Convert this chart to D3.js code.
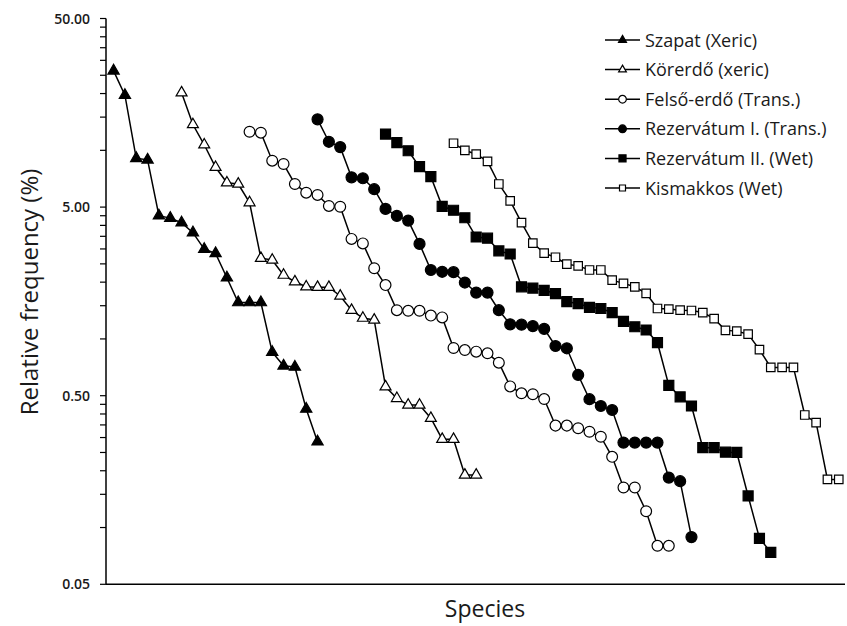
<!DOCTYPE html>
<html>
<head>
<meta charset="utf-8">
<script src="https://cdn.jsdelivr.net/npm/d3@7"></script>
<style>
  body { margin: 0; background: #fff; }
  text { font-family: "Open Sans", "Noto Sans", sans-serif; fill: #1a1a1a; }
</style>
</head>
<body>
<div id="chart"></div>
<script>
// series names (legend order)
const seriesNames = ["Szapat (Xeric)", "Körerdő (xeric)", "Felső-erdő (Trans.)",
                     "Rezervátum I. (Trans.)", "Rezervátum II. (Wet)", "Kismakkos (Wet)"];
// species rank where each series starts
const seriesStart = [0, 6, 12, 18, 24, 30];

const szapat = [26.4, 19.6, 9.07, 8.9, 4.5, 4.37, 4.13, 3.66, 2.99, 2.84, 2.11,
                1.56, 1.56, 1.56, 0.85, 0.72, 0.71, 0.425, 0.285];
const korerdo = [20.2, 13.7, 10.7, 8.13, 6.73, 6.63, 5.28, 2.68, 2.62, 2.18, 2.01,
                 1.89, 1.88, 1.88, 1.69, 1.42, 1.29, 1.26, 0.558, 0.484, 0.446, 0.446,
                 0.38, 0.294, 0.294, 0.19, 0.19];
const felsoErdo = [12.55, 12.4, 8.81, 8.46, 6.63, 5.96, 5.8, 5.07, 5.02, 3.39, 3.21,
                   2.37, 1.93, 1.42, 1.41, 1.41, 1.33, 1.3, 0.895, 0.873, 0.856, 0.839,
                   0.748, 0.56, 0.515, 0.509, 0.48, 0.347, 0.347, 0.336, 0.322, 0.303,
                   0.237, 0.163, 0.163, 0.122, 0.08, 0.08];
const rezervatum1 = [14.6, 11.1, 10.4, 7.19, 7.11, 6.22, 4.89, 4.49, 4.24, 3.19, 2.32,
                     2.27, 2.26, 1.99, 1.76, 1.76, 1.42, 1.195, 1.19, 1.17, 1.13, 0.917,
                     0.892, 0.644, 0.479, 0.441, 0.42, 0.282, 0.282, 0.282, 0.282, 0.184,
                     0.176, 0.089];
const rezervatum2 = [12.2, 10.98, 9.95, 8.19, 7.25, 5.05, 4.81, 4.39, 3.47, 3.42, 2.93,
                     2.82, 1.89, 1.86, 1.81, 1.74, 1.575, 1.54, 1.47, 1.45, 1.38, 1.24,
                     1.16, 1.115, 0.955, 0.567, 0.493, 0.441, 0.265, 0.265, 0.251, 0.25,
                     0.147, 0.0877, 0.0739];
const kismakkos = [10.9, 10.0, 9.54, 8.74, 6.63, 5.39, 4.14, 3.22, 2.85, 2.71, 2.49,
                   2.44, 2.32, 2.32, 2.05, 1.97, 1.89, 1.745, 1.45, 1.44, 1.42, 1.415,
                   1.38, 1.28, 1.11, 1.1, 1.06, 0.877, 0.706, 0.706, 0.706, 0.395, 0.36,
                   0.18, 0.18];
const seriesValues = [szapat, korerdo, felsoErdo, rezervatum1, rezervatum2, kismakkos];

// y tick labels
const yTicks = [0.05, 0.5, 5, 50];
const yTickLabels = ["0.05", "0.50", "5.00", "50.00"];

const W = 847, H = 626;
const svg = d3.select("#chart").append("svg")
    .attr("width", W).attr("height", H);

const x = d3.scaleLinear().domain([-0.67, 64.55]).range([106, 845]);
const y = d3.scaleLog().domain([0.05, 50]).range([584.3, 18.5]);

// marker styles per series
const markerShape = [d3.symbolTriangle, d3.symbolTriangle, d3.symbolCircle,
                     d3.symbolCircle, d3.symbolSquare, d3.symbolSquare];
const markerFill = ["#000", "#fff", "#fff", "#000", "#000", "#fff"];
const markerSize = [55, 52, 92, 95, 100, 72];

// y axis with minor ticks
const minor = [];
for (let dec = 0.05; dec < 50; dec *= 10) {
  for (let k = 2; k <= 9; k++) minor.push(dec * k);
}
const yAxis = svg.append("g").attr("transform", "translate(106,0)");
yAxis.append("line").attr("x1", 0).attr("x2", 0)
    .attr("y1", y(50)).attr("y2", y(0.05))
    .attr("stroke", "#000").attr("stroke-width", 1.5);
yAxis.selectAll(".minor").data(minor).enter().append("line")
    .attr("x1", -6).attr("x2", 0)
    .attr("y1", d => y(d)).attr("y2", d => y(d))
    .attr("stroke", "#000").attr("stroke-width", 1.2);
yAxis.selectAll(".major").data(yTicks).enter().append("line")
    .attr("x1", -6).attr("x2", 0)
    .attr("y1", d => y(d)).attr("y2", d => y(d))
    .attr("stroke", "#000").attr("stroke-width", 1.2);
yAxis.selectAll(".lab").data(yTicks).enter().append("text")
    .attr("x", -16).attr("y", d => y(d) + 5)
    .attr("text-anchor", "end")
    .style("font-size", "14px").style("font-weight", 600)
    .text((d, i) => yTickLabels[i]);

// x axis
svg.append("line").attr("x1", 106).attr("x2", 845)
    .attr("y1", y(0.05)).attr("y2", y(0.05))
    .attr("stroke", "#000").attr("stroke-width", 1.5);

// axis titles
svg.append("text").attr("x", 485).attr("y", 617)
    .attr("text-anchor", "middle").style("font-size", "23px").text("Species");
svg.append("text").attr("transform", "translate(38,292) rotate(-90)")
    .attr("text-anchor", "middle").style("font-size", "24px")
    .text("Relative frequency (%)");

// series
const line = d3.line().x(d => x(d[0])).y(d => y(d[1]));
seriesValues.forEach((vals, s) => {
  const pts = vals.map((v, i) => [seriesStart[s] + i, v]);
  const g = svg.append("g");
  g.append("path").datum(pts).attr("d", line)
      .attr("fill", "none").attr("stroke", "#000").attr("stroke-width", 1.5);
  g.selectAll("path.m").data(pts).enter().append("path")
      .attr("class", "m")
      .attr("transform", d => `translate(${x(d[0])},${y(d[1])})`)
      .attr("d", d3.symbol().type(markerShape[s]).size(markerSize[s]))
      .attr("fill", markerFill[s]).attr("stroke", "#000").attr("stroke-width", 1.2);
});

// legend
const legend = svg.append("g").attr("transform", "translate(605,40)");
seriesNames.forEach((name, s) => {
  const row = legend.append("g").attr("transform", `translate(0,${s * 29.6})`);
  row.append("line").attr("x1", 0).attr("x2", 35).attr("y1", 0).attr("y2", 0)
      .attr("stroke", "#000").attr("stroke-width", 1.5);
  row.append("path").attr("transform", "translate(17.5,0)")
      .attr("d", d3.symbol().type(markerShape[s]).size(markerSize[s] * 0.5))
      .attr("fill", markerFill[s]).attr("stroke", "#000").attr("stroke-width", 1.2);
  row.append("text").attr("x", 40).attr("y", 6.5)
      .style("font-size", "18px").text(name);
});
</script>
</body>
</html>
